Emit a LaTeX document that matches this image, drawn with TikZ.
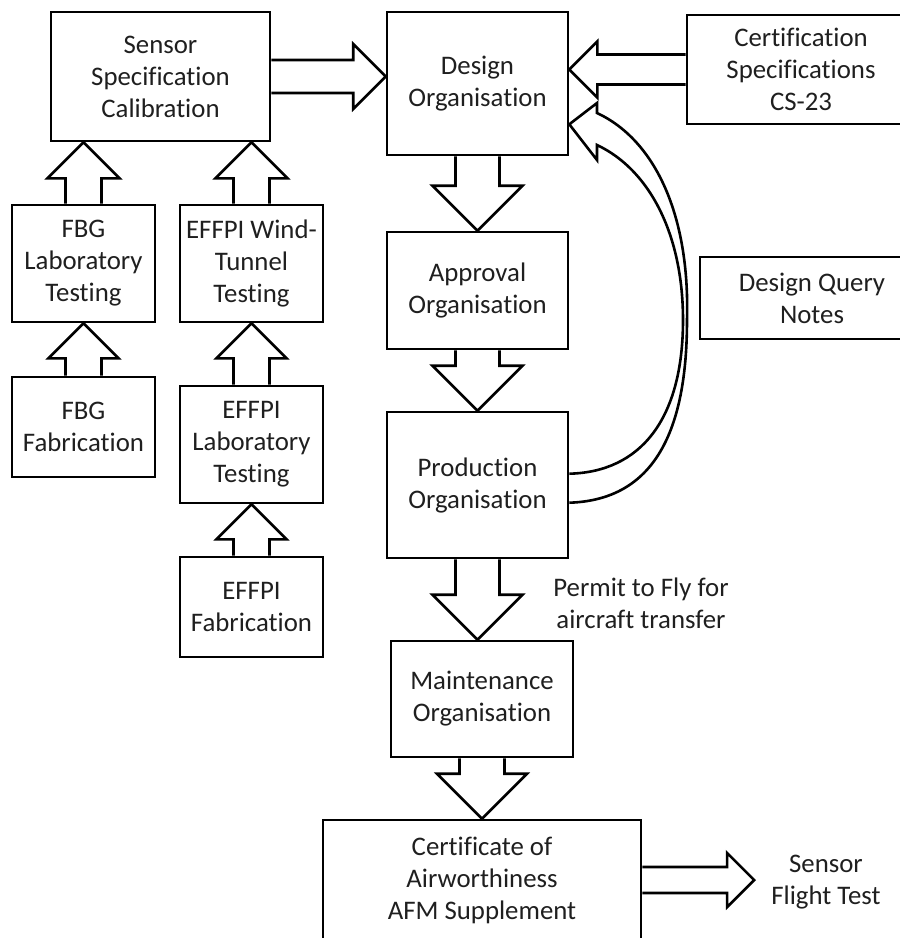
\documentclass[tikz,border=0pt]{standalone}
\usepackage{fontspec}
\setmainfont{Carlito}[Ligatures=NoCommon]
\usetikzlibrary{calc}
\newcommand\blockarr[4]{%
  \draw[arr] ($(#1)!#3pt!90:(#2)$) -- ($(#2)!#4pt!(#1)!#3pt!90:(#2)$)
    -- ($(#2)!#4pt!(#1)!#4pt!90:(#2)$) -- (#2)
    -- ($(#2)!#4pt!(#1)!#4pt!-90:(#2)$)
    -- ($(#2)!#4pt!(#1)!#3pt!-90:(#2)$) -- ($(#1)!#3pt!-90:(#2)$);%
}
\begin{document}
\begin{tikzpicture}[x=1pt,y=-1pt,
  txt/.style={font=\fontsize{26.8pt}{32pt}\selectfont, align=center, inner sep=0pt, text=black!88},
  box/.style={txt, draw, line width=2.6pt},
  arr/.style={draw, line width=2.6pt, line join=miter, miter limit=10}]
\useasboundingbox (0,0) rectangle (900,938);
\clip (0,0) rectangle (900,938);

\node[box, minimum width=219, minimum height=129] (sensor) at (160.5,76.5) {Sensor\\Specification\\Calibration};
\node[box, minimum width=181, minimum height=143] (design) at (477.5,83.5) {Design\\Organisation};
\node[box, minimum width=228, minimum height=109] (cert) at (801,69.5) {Certification\\Specifications\\CS-23};
\node[box, minimum width=143, minimum height=117] (fbglab) at (83.5,263.5) {FBG\\Laboratory\\Testing};
\node[box, minimum width=143, minimum height=117] (effpiwind) at (251.5,263.5) {EFFPI Wind-\\Tunnel\\Testing};
\node[box, minimum width=143, minimum height=100] (fbgfab) at (83.5,427) {FBG\\Fabrication};
\node[box, minimum width=143, minimum height=117] (effpilab) at (251.5,444.5) {EFFPI\\Laboratory\\Testing};
\node[box, minimum width=143, minimum height=100] (effpifab) at (251.5,607) {EFFPI\\Fabrication};
\node[box, minimum width=181, minimum height=117] (approval) at (477.5,290.5) {Approval\\Organisation};
\node[box, minimum width=181, minimum height=146] (production) at (477.5,485) {Production\\Organisation};
\node[box, minimum width=182, minimum height=116] (maintenance) at (482,699) {Maintenance\\Organisation};
\node[box, minimum width=318, minimum height=120] (certificate) at (482,880) {Certificate of\\Airworthiness\\AFM Supplement};
\node[box, minimum width=224, minimum height=82] (dqn) at (812,298) {Design Query\\Notes};
\node[txt, inner xsep=17pt] (flight) at (826,882) {Sensor\\Flight Test};
\node[txt] (permit) at (641,603) {Permit to Fly for\\aircraft transfer};

\blockarr{fbglab.north}{sensor.south -| fbglab.north}{18}{36}
\blockarr{effpiwind.north}{sensor.south -| effpiwind.north}{18}{36}
\blockarr{fbgfab.north}{fbglab.south}{18}{35}
\blockarr{effpilab.north}{effpiwind.south}{18}{35}
\blockarr{effpifab.north}{effpilab.south}{18}{35}
\blockarr{sensor.east}{sensor.east -| design.west}{16.5}{32.5}
\blockarr{cert.west}{cert.west -| design.east}{15}{28}
\blockarr{design.south}{approval.north}{22}{45}
\blockarr{approval.south}{production.north}{22}{45}
\blockarr{production.south}{production.south |- maintenance.north}{22}{45}
\blockarr{maintenance.south}{certificate.north}{22.5}{45}
\blockarr{certificate.east}{certificate.east -| flight.west}{13}{27}

\coordinate (qtip) at ($(design.south east)+(0,-32)$);
\coordinate (qa) at ($(production.north east)+(0,63)$);
\coordinate (qb) at ($(production.north east)+(0,92)$);
\draw[arr] (qb) .. controls (655,500) and (687,430) .. (687,320)
  .. controls (690,215) and (655,140) .. (597,113) -- (597,103) -- (qtip)
  -- (597,160) -- (597,145) .. controls (650,170) and (683,235) .. (683,320)
  .. controls (683,420) and (640,472) .. (qa);
\end{tikzpicture}
\end{document}
